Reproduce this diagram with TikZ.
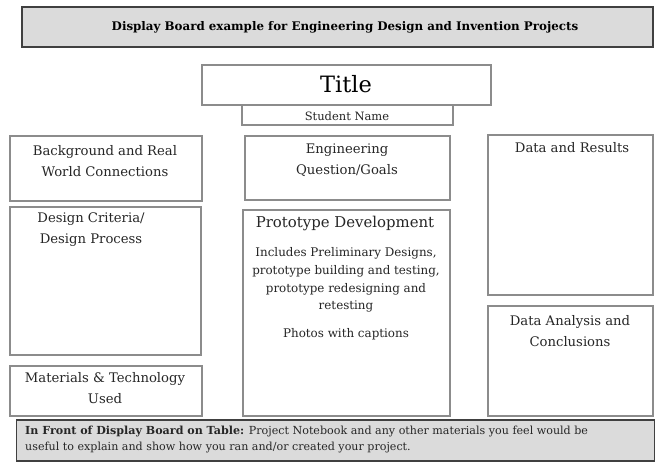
\documentclass[tikz,border=0pt]{standalone}
\usepackage{fontspec}
\setmainfont{DejaVu Serif}
\usetikzlibrary{positioning}

\begin{document}
\begin{tikzpicture}[
  x=1pt, y=-1pt,
  panel/.style={
    rectangle,
    draw=black!45,
    line width=1.1pt,
    fill=white,
    inner sep=0pt
  },
  banner/.style={
    rectangle,
    draw=black!75,
    line width=1.4pt,
    fill=black!14,
    inner sep=0pt
  },
  head/.style={inner sep=0pt, align=center, text=black!85, font=\fontsize{13.2}{21}\selectfont},
  small/.style={inner sep=0pt, align=center, text=black!85, font=\fontsize{11.9}{17.7}\selectfont}
]
\useasboundingbox (0,0) rectangle (655,462);

% Banner at the top
\node[banner, minimum width=631, minimum height=40] (top) at (337.5,27) {};
\node[inner sep=0pt, font=\fontsize{11.85}{15}\selectfont\bfseries] (toptxt) at (345,27.5)
  {Display Board example for Engineering Design and Invention Projects};

% Title and student name
\node[panel, minimum width=211, minimum height=20] (name) at (347.5,115) {};
\node[panel, minimum width=289, minimum height=40] (title) at (346.5,85) {};
\node[inner sep=0pt, font=\fontsize{22.5}{28}\selectfont] (titletxt) at (346,84) {Title};
\node[inner sep=0pt, font=\fontsize{11.5}{16}\selectfont, text=black!85] (nametxt) at (347,116.5) {Student Name};

% Left column
\node[panel, minimum width=192, minimum height=65] (bg) at (106,168.5) {};
\node[head] (bgtxt) at (105,161) {Background and Real\\World Connections};

\node[panel, minimum width=191, minimum height=148] (crit) at (105.5,281) {};
\node[head] (crittxt) at (91,230) {Design Criteria/\\Design Process};

\node[panel, minimum width=192, minimum height=50] (mat) at (106,391) {};
\node[head] (mattxt) at (105,388.5) {Materials \& Technology\\Used};

% Middle column
\node[panel, minimum width=205, minimum height=64] (goal) at (347.5,168) {};
\node[head] (goaltxt) at (347,160) {Engineering\\Question/Goals};

\node[panel, minimum width=207, minimum height=206] (proto) at (346.5,313) {};
\node[inner sep=0pt, text=black!85, font=\fontsize{14.9}{20}\selectfont] (prototxt) at (345,223) {Prototype Development};
\node[small] (protobody) at (346,280)
  {Includes Preliminary Designs,\\prototype building and testing,\\prototype redesigning and\\retesting};
\node[small] (photos) at (346,334) {Photos with captions};

% Right column
\node[panel, minimum width=165, minimum height=160] (res) at (570.5,215) {};
\node[head] (restxt) at (572,147.5) {Data and Results};

\node[panel, minimum width=165, minimum height=110] (concl) at (570.5,361) {};
\node[head] (concltxt) at (570,331) {Data Analysis and\\Conclusions};

% Banner at the bottom
\node[banner, minimum width=638, minimum height=41] (bottom) at (335.5,440.5) {};
\node[inner sep=0pt, anchor=west, align=left, text=black!85, font=\fontsize{11.1}{16}\selectfont] (bottomtxt) at (25,439.5)
  {\textbf{In Front of Display Board on Table:} Project Notebook and any other materials you feel would be\\
   useful to explain and show how you ran and/or created your project.};

\end{tikzpicture}
\end{document}
